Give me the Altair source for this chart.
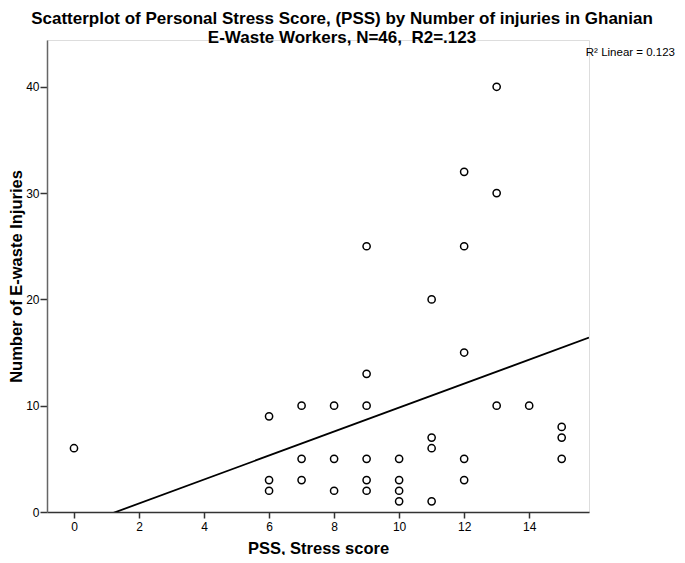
import altair as alt
import pandas as pd

# Data
pss = [0,
       6, 6, 6,
       7, 7, 7,
       8, 8, 8,
       9, 9, 9, 9, 9, 9,
       10, 10, 10, 10,
       11, 11, 11, 11,
       12, 12, 12, 12, 12,
       13, 13, 13,
       14,
       15, 15, 15]
injuries = [6,
            9, 3, 2,
            10, 5, 3,
            10, 5, 2,
            25, 13, 10, 5, 3, 2,
            5, 3, 2, 1,
            20, 7, 6, 1,
            32, 25, 15, 5, 3,
            40, 30, 10,
            10,
            8, 7, 5]

# Fit line (SPSS linear fit, all 46 cases)
fit_intercept = [-1.45]
fit_slope = [1.127]
x_domain = [-0.83, 15.84]
y_domain = [0, 44.4]
x_ticks = [0, 2, 4, 6, 8, 10, 12, 14]
y_ticks = [0, 10, 20, 30, 40]
r2_label = ["R\u00b2 Linear = 0.123"]

FONT = "Liberation Sans"

pts = pd.DataFrame({"pss": pss, "inj": injuries})
fit = pd.DataFrame({"pss": x_domain})
fit["inj"] = fit_intercept[0] + fit_slope[0] * fit["pss"]

xs = alt.Scale(domain=x_domain, nice=False, zero=False)
ys = alt.Scale(domain=y_domain, nice=False, zero=False)

x_axis = alt.Axis(values=x_ticks, grid=False, title="PSS, Stress score",
                  labelFont=FONT, labelFontSize=12, labelColor="#000",
                  titleFont=FONT, titleFontSize=16.5, titleFontWeight="bold",
                  titleColor="#000", titlePadding=8, tickSize=6,
                  labelPadding=3, domainColor="#333", tickColor="#333",
                  domainWidth=1.5, tickWidth=1.5)
y_axis = alt.Axis(values=y_ticks, grid=False, title="Number of E-waste Injuries",
                  labelFont=FONT, labelFontSize=12, labelColor="#000",
                  titleFont=FONT, titleFontSize=16.5, titleFontWeight="bold",
                  titleColor="#000", titleX=-26, titleY=236,
                  titleBaseline="alphabetic", titleAlign="center", titleAngle=270,
                  tickSize=7, labelPadding=1, domainColor="#666", tickColor="#333",
                  domainWidth=1.5, tickWidth=1.5)

points = alt.Chart(pts).mark_point(
    shape="circle", filled=False, size=52, stroke="#000", strokeWidth=1.5,
    opacity=1
).encode(
    x=alt.X("pss:Q", scale=xs, axis=x_axis),
    y=alt.Y("inj:Q", scale=ys, axis=y_axis),
)

line = alt.Chart(fit).mark_line(color="#000", strokeWidth=1.8, clip=True).encode(
    x=alt.X("pss:Q", scale=xs),
    y=alt.Y("inj:Q", scale=ys),
)

r2 = alt.Chart(pd.DataFrame({"t": r2_label})).mark_text(
    font=FONT, fontSize=11.5, color="#000", align="right", baseline="middle"
).encode(
    text="t:N",
    x=alt.value(628),
    y=alt.value(13),
)

chart = alt.layer(points, line, r2).properties(
    width=542,
    height=472,
    padding={"left": 39, "top": 32, "right": 88, "bottom": 43},
    autosize=alt.AutoSizeParams(type="none"),
    title=alt.TitleParams(
        text=["Scatterplot of Personal Stress Score, (PSS) by Number of injuries in Ghanian",
              "E-Waste Workers, N=46,\u00a0 R2=.123"],
        font=FONT, fontSize=17, fontWeight="bold", color="#000",
        anchor="middle", dx=24, offset=-6.5, lineHeight=18.5,
    ),
).configure_view(stroke=None).configure(background="#ffffff")

chart.save("out.html", embed_options={"renderer": "svg", "actions": False})
